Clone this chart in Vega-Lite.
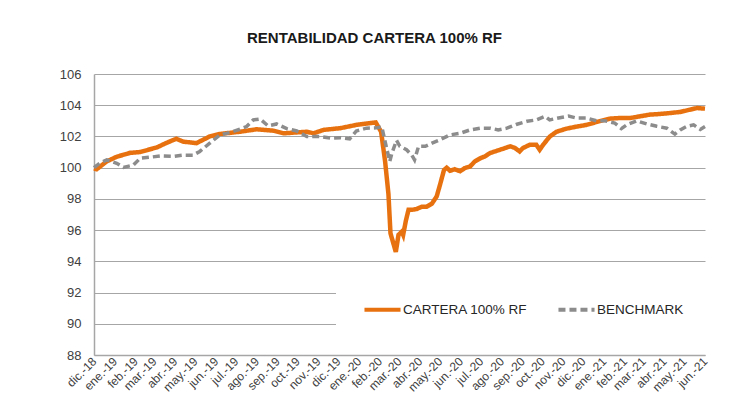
{
  "$schema": "https://vega.github.io/schema/vega-lite/v6.json",
  "width": 611,
  "height": 281,
  "autosize": {"type": "none"},
  "padding": {"left": 94, "top": 74, "right": 39, "bottom": 65},
  "background": "white",
  "title": {
    "text": "RENTABILIDAD CARTERA 100% RF",
    "font": "Liberation Sans",
    "fontSize": 15,
    "fontWeight": "bold",
    "color": "#1a1a1a",
    "anchor": "middle",
    "dx": -25,
    "offset": 22
  },
  "config": {
    "view": {"stroke": null},
    "font": "Liberation Sans",
    "legend": {
      "orient": "none",
      "legendX": 242,
      "legendY": 189,
      "direction": "horizontal",
      "padding": 26,
      "fillColor": "white",
      "strokeColor": null,
      "symbolType": "stroke",
      "symbolSize": 1300,
      "symbolStrokeWidth": 4,
      "labelFontSize": 13.5,
      "labelColor": "#262626",
      "labelFont": "Liberation Sans",
      "labelOffset": 0,
      "columnPadding": 22,
      "labelLimit": 300
    }
  },
  "data": {
    "values": [
      {"fecha": "2018-12-01T00:00:00", "serie": "CARTERA 100% RF", "valor": 99.95},
      {"fecha": "2018-12-05T00:00:00", "serie": "CARTERA 100% RF", "valor": 99.9},
      {"fecha": "2018-12-20T00:00:00", "serie": "CARTERA 100% RF", "valor": 100.4},
      {"fecha": "2019-01-04T00:00:00", "serie": "CARTERA 100% RF", "valor": 100.7},
      {"fecha": "2019-01-24T00:00:00", "serie": "CARTERA 100% RF", "valor": 100.95},
      {"fecha": "2019-02-08T00:00:00", "serie": "CARTERA 100% RF", "valor": 101.0},
      {"fecha": "2019-03-05T00:00:00", "serie": "CARTERA 100% RF", "valor": 101.3},
      {"fecha": "2019-03-20T00:00:00", "serie": "CARTERA 100% RF", "valor": 101.6},
      {"fecha": "2019-04-03T00:00:00", "serie": "CARTERA 100% RF", "valor": 101.85},
      {"fecha": "2019-04-13T00:00:00", "serie": "CARTERA 100% RF", "valor": 101.67},
      {"fecha": "2019-05-03T00:00:00", "serie": "CARTERA 100% RF", "valor": 101.57},
      {"fecha": "2019-05-23T00:00:00", "serie": "CARTERA 100% RF", "valor": 102.0},
      {"fecha": "2019-06-07T00:00:00", "serie": "CARTERA 100% RF", "valor": 102.16},
      {"fecha": "2019-07-07T00:00:00", "serie": "CARTERA 100% RF", "valor": 102.3},
      {"fecha": "2019-08-01T00:00:00", "serie": "CARTERA 100% RF", "valor": 102.46},
      {"fecha": "2019-08-26T00:00:00", "serie": "CARTERA 100% RF", "valor": 102.37},
      {"fecha": "2019-09-10T00:00:00", "serie": "CARTERA 100% RF", "valor": 102.2},
      {"fecha": "2019-10-15T00:00:00", "serie": "CARTERA 100% RF", "valor": 102.3},
      {"fecha": "2019-10-25T00:00:00", "serie": "CARTERA 100% RF", "valor": 102.2},
      {"fecha": "2019-11-09T00:00:00", "serie": "CARTERA 100% RF", "valor": 102.42},
      {"fecha": "2019-12-04T00:00:00", "serie": "CARTERA 100% RF", "valor": 102.53},
      {"fecha": "2019-12-28T00:00:00", "serie": "CARTERA 100% RF", "valor": 102.74},
      {"fecha": "2020-01-22T00:00:00", "serie": "CARTERA 100% RF", "valor": 102.88},
      {"fecha": "2020-01-26T00:00:00", "serie": "CARTERA 100% RF", "valor": 102.9},
      {"fecha": "2020-02-03T00:00:00", "serie": "CARTERA 100% RF", "valor": 102.3},
      {"fecha": "2020-02-09T00:00:00", "serie": "CARTERA 100% RF", "valor": 100.4},
      {"fecha": "2020-02-14T00:00:00", "serie": "CARTERA 100% RF", "valor": 98.3},
      {"fecha": "2020-02-17T00:00:00", "serie": "CARTERA 100% RF", "valor": 95.8},
      {"fecha": "2020-02-21T00:00:00", "serie": "CARTERA 100% RF", "valor": 95.2},
      {"fecha": "2020-02-25T00:00:00", "serie": "CARTERA 100% RF", "valor": 94.6},
      {"fecha": "2020-02-29T00:00:00", "serie": "CARTERA 100% RF", "valor": 95.7},
      {"fecha": "2020-03-05T00:00:00", "serie": "CARTERA 100% RF", "valor": 95.9},
      {"fecha": "2020-03-07T00:00:00", "serie": "CARTERA 100% RF", "valor": 95.7},
      {"fecha": "2020-03-11T00:00:00", "serie": "CARTERA 100% RF", "valor": 96.6},
      {"fecha": "2020-03-15T00:00:00", "serie": "CARTERA 100% RF", "valor": 97.3},
      {"fecha": "2020-03-20T00:00:00", "serie": "CARTERA 100% RF", "valor": 97.3},
      {"fecha": "2020-03-27T00:00:00", "serie": "CARTERA 100% RF", "valor": 97.35},
      {"fecha": "2020-04-04T00:00:00", "serie": "CARTERA 100% RF", "valor": 97.5},
      {"fecha": "2020-04-11T00:00:00", "serie": "CARTERA 100% RF", "valor": 97.5},
      {"fecha": "2020-04-19T00:00:00", "serie": "CARTERA 100% RF", "valor": 97.7},
      {"fecha": "2020-04-26T00:00:00", "serie": "CARTERA 100% RF", "valor": 98.15},
      {"fecha": "2020-05-01T00:00:00", "serie": "CARTERA 100% RF", "valor": 98.9},
      {"fecha": "2020-05-07T00:00:00", "serie": "CARTERA 100% RF", "valor": 99.85},
      {"fecha": "2020-05-11T00:00:00", "serie": "CARTERA 100% RF", "valor": 100.0},
      {"fecha": "2020-05-16T00:00:00", "serie": "CARTERA 100% RF", "valor": 99.8},
      {"fecha": "2020-05-23T00:00:00", "serie": "CARTERA 100% RF", "valor": 99.9},
      {"fecha": "2020-05-31T00:00:00", "serie": "CARTERA 100% RF", "valor": 99.77},
      {"fecha": "2020-06-07T00:00:00", "serie": "CARTERA 100% RF", "valor": 99.97},
      {"fecha": "2020-06-15T00:00:00", "serie": "CARTERA 100% RF", "valor": 100.08},
      {"fecha": "2020-06-22T00:00:00", "serie": "CARTERA 100% RF", "valor": 100.4},
      {"fecha": "2020-06-30T00:00:00", "serie": "CARTERA 100% RF", "valor": 100.6},
      {"fecha": "2020-07-07T00:00:00", "serie": "CARTERA 100% RF", "valor": 100.72},
      {"fecha": "2020-07-15T00:00:00", "serie": "CARTERA 100% RF", "valor": 100.94},
      {"fecha": "2020-07-30T00:00:00", "serie": "CARTERA 100% RF", "valor": 101.15},
      {"fecha": "2020-08-14T00:00:00", "serie": "CARTERA 100% RF", "valor": 101.37},
      {"fecha": "2020-08-21T00:00:00", "serie": "CARTERA 100% RF", "valor": 101.26},
      {"fecha": "2020-08-28T00:00:00", "serie": "CARTERA 100% RF", "valor": 101.04},
      {"fecha": "2020-09-02T00:00:00", "serie": "CARTERA 100% RF", "valor": 101.26},
      {"fecha": "2020-09-12T00:00:00", "serie": "CARTERA 100% RF", "valor": 101.46},
      {"fecha": "2020-09-22T00:00:00", "serie": "CARTERA 100% RF", "valor": 101.46},
      {"fecha": "2020-09-27T00:00:00", "serie": "CARTERA 100% RF", "valor": 101.15},
      {"fecha": "2020-10-02T00:00:00", "serie": "CARTERA 100% RF", "valor": 101.46},
      {"fecha": "2020-10-12T00:00:00", "serie": "CARTERA 100% RF", "valor": 101.99},
      {"fecha": "2020-10-22T00:00:00", "serie": "CARTERA 100% RF", "valor": 102.3},
      {"fecha": "2020-11-06T00:00:00", "serie": "CARTERA 100% RF", "valor": 102.5},
      {"fecha": "2020-11-21T00:00:00", "serie": "CARTERA 100% RF", "valor": 102.63},
      {"fecha": "2020-12-06T00:00:00", "serie": "CARTERA 100% RF", "valor": 102.74},
      {"fecha": "2020-12-23T00:00:00", "serie": "CARTERA 100% RF", "valor": 102.95},
      {"fecha": "2021-01-10T00:00:00", "serie": "CARTERA 100% RF", "valor": 103.14},
      {"fecha": "2021-01-25T00:00:00", "serie": "CARTERA 100% RF", "valor": 103.18},
      {"fecha": "2021-02-09T00:00:00", "serie": "CARTERA 100% RF", "valor": 103.18},
      {"fecha": "2021-02-24T00:00:00", "serie": "CARTERA 100% RF", "valor": 103.29},
      {"fecha": "2021-03-11T00:00:00", "serie": "CARTERA 100% RF", "valor": 103.4},
      {"fecha": "2021-03-26T00:00:00", "serie": "CARTERA 100% RF", "valor": 103.44},
      {"fecha": "2021-04-10T00:00:00", "serie": "CARTERA 100% RF", "valor": 103.5},
      {"fecha": "2021-04-25T00:00:00", "serie": "CARTERA 100% RF", "valor": 103.57},
      {"fecha": "2021-05-10T00:00:00", "serie": "CARTERA 100% RF", "valor": 103.72},
      {"fecha": "2021-05-20T00:00:00", "serie": "CARTERA 100% RF", "valor": 103.82},
      {"fecha": "2021-06-01T00:00:00", "serie": "CARTERA 100% RF", "valor": 103.78},

      {"fecha": "2018-12-01T00:00:00", "serie": "BENCHMARK", "valor": 100.0},
      {"fecha": "2018-12-10T00:00:00", "serie": "BENCHMARK", "valor": 100.3},
      {"fecha": "2018-12-20T00:00:00", "serie": "BENCHMARK", "valor": 100.5},
      {"fecha": "2019-01-04T00:00:00", "serie": "BENCHMARK", "valor": 100.28},
      {"fecha": "2019-01-14T00:00:00", "serie": "BENCHMARK", "valor": 100.02},
      {"fecha": "2019-01-29T00:00:00", "serie": "BENCHMARK", "valor": 100.17},
      {"fecha": "2019-02-08T00:00:00", "serie": "BENCHMARK", "valor": 100.6},
      {"fecha": "2019-02-23T00:00:00", "serie": "BENCHMARK", "valor": 100.67},
      {"fecha": "2019-03-10T00:00:00", "serie": "BENCHMARK", "valor": 100.75},
      {"fecha": "2019-03-29T00:00:00", "serie": "BENCHMARK", "valor": 100.72},
      {"fecha": "2019-04-13T00:00:00", "serie": "BENCHMARK", "valor": 100.8},
      {"fecha": "2019-04-28T00:00:00", "serie": "BENCHMARK", "valor": 100.8},
      {"fecha": "2019-05-08T00:00:00", "serie": "BENCHMARK", "valor": 101.04},
      {"fecha": "2019-05-23T00:00:00", "serie": "BENCHMARK", "valor": 101.57},
      {"fecha": "2019-06-07T00:00:00", "serie": "BENCHMARK", "valor": 102.1},
      {"fecha": "2019-06-22T00:00:00", "serie": "BENCHMARK", "valor": 102.25},
      {"fecha": "2019-07-07T00:00:00", "serie": "BENCHMARK", "valor": 102.46},
      {"fecha": "2019-07-17T00:00:00", "serie": "BENCHMARK", "valor": 102.63},
      {"fecha": "2019-07-27T00:00:00", "serie": "BENCHMARK", "valor": 103.06},
      {"fecha": "2019-08-06T00:00:00", "serie": "BENCHMARK", "valor": 103.12},
      {"fecha": "2019-08-18T00:00:00", "serie": "BENCHMARK", "valor": 102.68},
      {"fecha": "2019-08-31T00:00:00", "serie": "BENCHMARK", "valor": 102.8},
      {"fecha": "2019-09-15T00:00:00", "serie": "BENCHMARK", "valor": 102.5},
      {"fecha": "2019-09-30T00:00:00", "serie": "BENCHMARK", "valor": 102.35},
      {"fecha": "2019-10-15T00:00:00", "serie": "BENCHMARK", "valor": 102.0},
      {"fecha": "2019-11-04T00:00:00", "serie": "BENCHMARK", "valor": 102.0},
      {"fecha": "2019-11-19T00:00:00", "serie": "BENCHMARK", "valor": 101.9},
      {"fecha": "2019-12-04T00:00:00", "serie": "BENCHMARK", "valor": 101.92},
      {"fecha": "2019-12-18T00:00:00", "serie": "BENCHMARK", "valor": 101.84},
      {"fecha": "2019-12-28T00:00:00", "serie": "BENCHMARK", "valor": 102.35},
      {"fecha": "2020-01-12T00:00:00", "serie": "BENCHMARK", "valor": 102.53},
      {"fecha": "2020-01-27T00:00:00", "serie": "BENCHMARK", "valor": 102.55},
      {"fecha": "2020-02-04T00:00:00", "serie": "BENCHMARK", "valor": 102.63},
      {"fecha": "2020-02-11T00:00:00", "serie": "BENCHMARK", "valor": 101.3},
      {"fecha": "2020-02-16T00:00:00", "serie": "BENCHMARK", "valor": 100.4},
      {"fecha": "2020-02-19T00:00:00", "serie": "BENCHMARK", "valor": 100.9},
      {"fecha": "2020-02-26T00:00:00", "serie": "BENCHMARK", "valor": 101.75},
      {"fecha": "2020-03-02T00:00:00", "serie": "BENCHMARK", "valor": 101.37},
      {"fecha": "2020-03-12T00:00:00", "serie": "BENCHMARK", "valor": 101.15},
      {"fecha": "2020-03-20T00:00:00", "serie": "BENCHMARK", "valor": 100.8},
      {"fecha": "2020-03-24T00:00:00", "serie": "BENCHMARK", "valor": 100.5},
      {"fecha": "2020-03-30T00:00:00", "serie": "BENCHMARK", "valor": 101.37},
      {"fecha": "2020-04-09T00:00:00", "serie": "BENCHMARK", "valor": 101.37},
      {"fecha": "2020-04-19T00:00:00", "serie": "BENCHMARK", "valor": 101.57},
      {"fecha": "2020-05-01T00:00:00", "serie": "BENCHMARK", "valor": 101.78},
      {"fecha": "2020-05-16T00:00:00", "serie": "BENCHMARK", "valor": 102.1},
      {"fecha": "2020-05-31T00:00:00", "serie": "BENCHMARK", "valor": 102.2},
      {"fecha": "2020-06-15T00:00:00", "serie": "BENCHMARK", "valor": 102.42},
      {"fecha": "2020-06-30T00:00:00", "serie": "BENCHMARK", "valor": 102.53},
      {"fecha": "2020-07-15T00:00:00", "serie": "BENCHMARK", "valor": 102.53},
      {"fecha": "2020-07-27T00:00:00", "serie": "BENCHMARK", "valor": 102.42},
      {"fecha": "2020-08-09T00:00:00", "serie": "BENCHMARK", "valor": 102.53},
      {"fecha": "2020-08-24T00:00:00", "serie": "BENCHMARK", "valor": 102.78},
      {"fecha": "2020-09-08T00:00:00", "serie": "BENCHMARK", "valor": 102.97},
      {"fecha": "2020-09-22T00:00:00", "serie": "BENCHMARK", "valor": 103.06},
      {"fecha": "2020-10-05T00:00:00", "serie": "BENCHMARK", "valor": 103.29},
      {"fecha": "2020-10-12T00:00:00", "serie": "BENCHMARK", "valor": 103.06},
      {"fecha": "2020-10-25T00:00:00", "serie": "BENCHMARK", "valor": 103.18},
      {"fecha": "2020-11-09T00:00:00", "serie": "BENCHMARK", "valor": 103.3},
      {"fecha": "2020-11-21T00:00:00", "serie": "BENCHMARK", "valor": 103.18},
      {"fecha": "2020-12-06T00:00:00", "serie": "BENCHMARK", "valor": 103.18},
      {"fecha": "2020-12-21T00:00:00", "serie": "BENCHMARK", "valor": 103.0},
      {"fecha": "2021-01-02T00:00:00", "serie": "BENCHMARK", "valor": 103.0},
      {"fecha": "2021-01-17T00:00:00", "serie": "BENCHMARK", "valor": 102.86},
      {"fecha": "2021-01-27T00:00:00", "serie": "BENCHMARK", "valor": 102.5},
      {"fecha": "2021-02-04T00:00:00", "serie": "BENCHMARK", "valor": 102.74},
      {"fecha": "2021-02-19T00:00:00", "serie": "BENCHMARK", "valor": 103.0},
      {"fecha": "2021-03-06T00:00:00", "serie": "BENCHMARK", "valor": 102.8},
      {"fecha": "2021-03-21T00:00:00", "serie": "BENCHMARK", "valor": 102.65},
      {"fecha": "2021-04-05T00:00:00", "serie": "BENCHMARK", "valor": 102.53},
      {"fecha": "2021-04-17T00:00:00", "serie": "BENCHMARK", "valor": 102.15},
      {"fecha": "2021-04-25T00:00:00", "serie": "BENCHMARK", "valor": 102.42},
      {"fecha": "2021-05-05T00:00:00", "serie": "BENCHMARK", "valor": 102.65},
      {"fecha": "2021-05-15T00:00:00", "serie": "BENCHMARK", "valor": 102.74},
      {"fecha": "2021-05-25T00:00:00", "serie": "BENCHMARK", "valor": 102.45},
      {"fecha": "2021-06-01T00:00:00", "serie": "BENCHMARK", "valor": 102.63}
    ]
  },
  "encoding": {
    "x": {
      "field": "fecha",
      "type": "temporal",
      "title": null,
      "scale": {
        "domain": [
          {"year": 2018, "month": 12, "date": 1},
          {"year": 2021, "month": 6, "date": 1}
        ],
        "nice": false
      },
      "axis": {
        "tickCount": {"interval": "month", "step": 1},
        "labelExpr": "['ene.','feb.','mar.','abr.','may.','jun.','jul.','ago.','sep.','oct.','nov.','dic.'][month(datum.value)] + '-' + timeFormat(datum.value, '%y')",
        "labelAngle": -45,
        "labelAlign": "right",
        "labelBaseline": "middle",
        "labelPadding": 4,
        "labelOverlap": false,
        "labelFontSize": 12,
        "labelColor": "#404040",
        "labelFont": "Liberation Sans",
        "ticks": false,
        "grid": false,
        "domainColor": "#a6a6a6",
        "domainWidth": 1.5
      }
    },
    "y": {
      "field": "valor",
      "type": "quantitative",
      "title": null,
      "scale": {"domain": [88, 106], "nice": false, "zero": false},
      "axis": {
        "values": [88, 90, 92, 94, 96, 98, 100, 102, 104, 106],
        "ticks": false,
        "labelPadding": 13,
        "labelFontSize": 13,
        "labelColor": "#404040",
        "labelFont": "Liberation Sans",
        "grid": true,
        "gridColor": "#a6a6a6",
        "gridWidth": 1.2,
        "domainColor": "#a6a6a6",
        "domainWidth": 1.5
      }
    },
    "color": {
      "field": "serie",
      "type": "nominal",
      "title": null,
      "scale": {
        "domain": ["CARTERA 100% RF", "BENCHMARK"],
        "range": ["#E8710F", "#8C8C8C"]
      }
    },
    "strokeDash": {
      "field": "serie",
      "type": "nominal",
      "title": null,
      "scale": {
        "domain": ["CARTERA 100% RF", "BENCHMARK"],
        "range": [[1, 0], [7, 4]]
      }
    }
  },
  "layer": [
    {
      "transform": [{"filter": "datum.serie == 'CARTERA 100% RF'"}],
      "mark": {"type": "line", "strokeWidth": 4.5, "interpolate": "linear"}
    },
    {
      "transform": [{"filter": "datum.serie == 'BENCHMARK'"}],
      "mark": {"type": "line", "strokeWidth": 3.5, "interpolate": "linear"}
    }
  ]
}
